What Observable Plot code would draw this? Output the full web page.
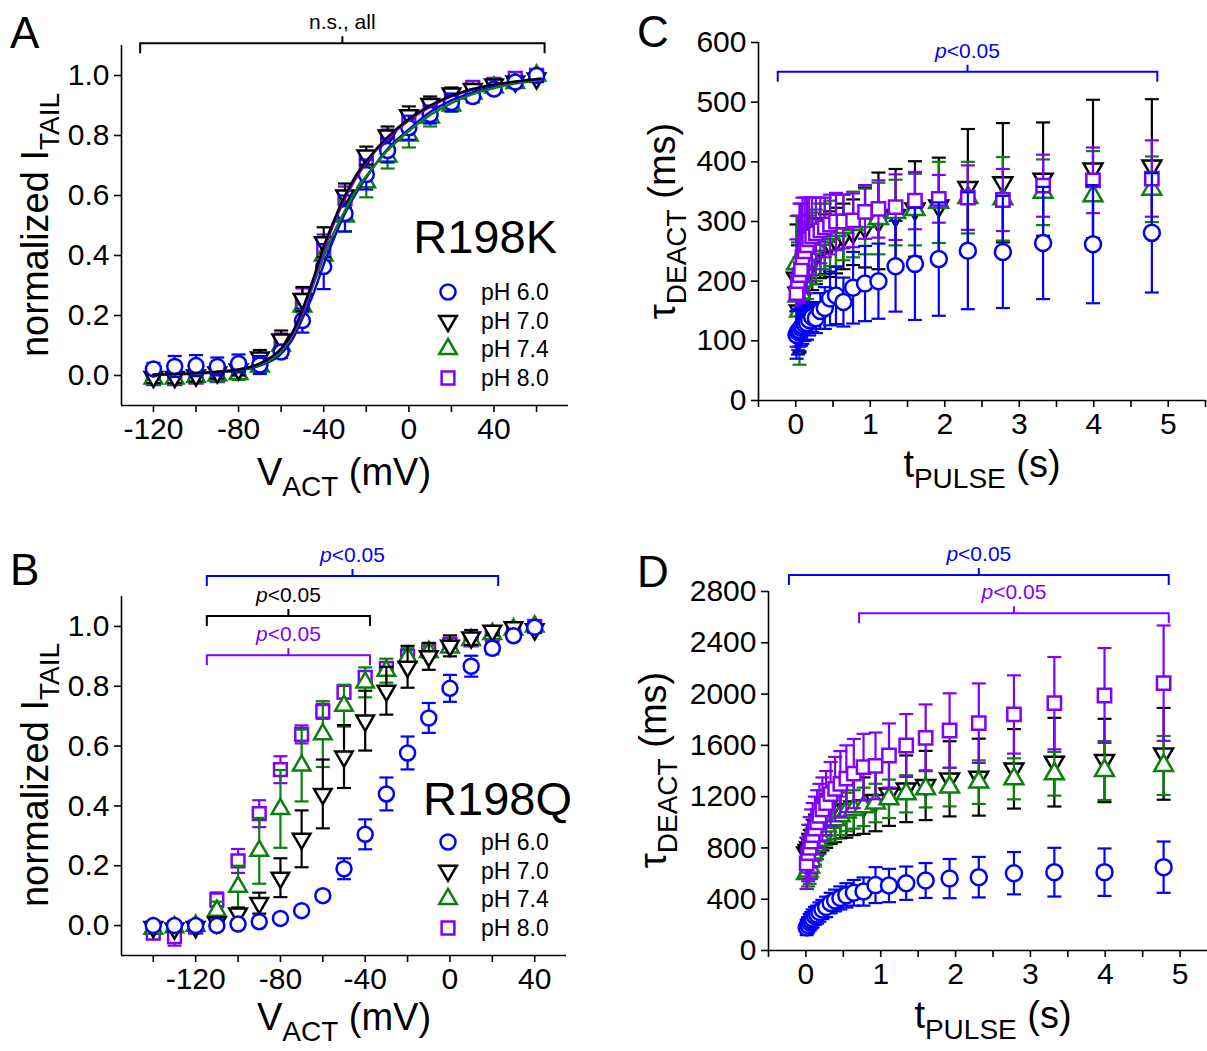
<!DOCTYPE html>
<html><head><meta charset="utf-8">
<script src="https://cdn.jsdelivr.net/npm/d3@7"></script>
<script src="https://cdn.jsdelivr.net/npm/@observablehq/plot@0.6"></script>
<style>
html,body{margin:0;padding:0;background:#fff;}
#fig{position:relative;width:1207px;height:1051px;overflow:hidden;background:#fff;}
#fig svg{position:absolute;overflow:visible;}
</style></head><body><div id="fig"></div>
<script>
// ---------------- DATA ----------------
const phLabels = ["pH 6.0", "pH 7.0", "pH 7.4", "pH 8.0"];

// Panel A (R198K): normalized I_TAIL vs V_ACT
const vA = [-120,-110,-100,-90,-80,-70,-60,-50,-40,-30,-20,-10,0,10,20,30,40,50,60];
const a60 = [0.022,0.03,0.033,0.03,0.04,0.035,0.078,0.183,0.363,0.54,0.67,0.75,0.826,0.87,0.91,0.93,0.955,0.978,1.0];
const a60err = [0.02,0.035,0.035,0.03,0.03,0.03,0.02,0.04,0.075,0.06,0.05,0.04,0.04,0.03,0.03,0.02,0.015,0.015,0.01];
const a70 = [-0.005,-0.005,0,0.01,0.02,0.06,0.12,0.255,0.444,0.6,0.733,0.8,0.867,0.905,0.94,0.955,0.97,0.98,0.99];
const a70err = [0.02,0.02,0.02,0.02,0.02,0.025,0.03,0.04,0.05,0.04,0.03,0.03,0.03,0.025,0.02,0.015,0.01,0.01,0.01];
const a74 = [-0.01,-0.01,-0.005,0,0.005,0.03,0.1,0.23,0.4,0.53,0.644,0.73,0.8,0.86,0.9,0.94,0.96,0.975,1.0];
const a74err = [0.015,0.015,0.015,0.02,0.02,0.02,0.03,0.04,0.04,0.05,0.05,0.04,0.04,0.03,0.02,0.02,0.015,0.01,0.01];
const a80 = [-0.01,-0.01,-0.005,0,0.01,0.04,0.11,0.25,0.42,0.59,0.71,0.79,0.86,0.9,0.93,0.96,0.97,0.99,1.0];
const a80err = [0.015,0.015,0.02,0.02,0.02,0.025,0.03,0.04,0.05,0.04,0.03,0.03,0.02,0.02,0.02,0.015,0.01,0.01,0.01];
// fitted curves
const vFitA = [-120,-100,-80,-70,-60,-55,-50,-45,-40,-35,-30,-25,-20,-10,0,10,20,30,40,50,62];
const fitA60 = [0.003,0.006,0.017,0.033,0.072,0.117,0.19,0.27,0.37,0.46,0.54,0.605,0.66,0.755,0.82,0.878,0.917,0.944,0.964,0.976,0.983];
const fitA70 = [0.003,0.008,0.02,0.04,0.09,0.14,0.22,0.32,0.43,0.52,0.6,0.665,0.715,0.795,0.855,0.9,0.932,0.955,0.97,0.98,0.99];
const fitA74 = [0.003,0.007,0.018,0.036,0.08,0.13,0.205,0.3,0.395,0.48,0.55,0.615,0.665,0.75,0.815,0.868,0.908,0.938,0.958,0.973,0.985];
const fitA80 = [0.003,0.008,0.02,0.04,0.088,0.135,0.21,0.31,0.415,0.51,0.59,0.655,0.71,0.79,0.85,0.895,0.93,0.953,0.968,0.978,0.988];

// Panel B (R198Q)
const vB = [-140,-130,-120,-110,-100,-90,-80,-70,-60,-50,-40,-30,-20,-10,0,10,20,30,40];
const b60 = [0,0,0,0,0.005,0.013,0.024,0.05,0.1,0.19,0.305,0.44,0.577,0.694,0.793,0.867,0.927,0.969,0.997];
const b60err = [0.015,0.015,0.015,0.015,0.015,0.012,0.012,0.01,0.015,0.035,0.05,0.055,0.055,0.05,0.045,0.035,0.02,0.01,0.01];
const b70 = [-0.005,-0.01,-0.005,0.01,0.04,0.075,0.16,0.29,0.44,0.565,0.685,0.785,0.865,0.9,0.935,0.963,0.985,0.997,0.99];
const b70err = [0.01,0.01,0.01,0.01,0.02,0.035,0.065,0.095,0.115,0.105,0.1,0.08,0.07,0.045,0.035,0.025,0.015,0.01,0.01];
const b74 = [-0.01,-0.005,0,0.05,0.13,0.25,0.39,0.535,0.64,0.735,0.813,0.852,0.897,0.915,0.93,0.955,0.975,0.99,1.0];
const b74err = [0.01,0.01,0.015,0.03,0.07,0.11,0.13,0.12,0.11,0.07,0.05,0.04,0.03,0.02,0.015,0.015,0.01,0.01,0.01];
const b80 = [-0.025,-0.037,-0.005,0.086,0.216,0.374,0.521,0.639,0.716,0.78,0.83,0.86,0.9,0.92,0.94,0.955,0.975,0.99,1.0];
const b80err = [0.01,0.03,0.01,0.025,0.04,0.045,0.045,0.03,0.025,0.02,0.02,0.02,0.015,0.015,0.015,0.01,0.01,0.01,0.01];

// Panels C & D: tau_DEACT vs t_PULSE
const tPulse = [0.01,0.03,0.05,0.07,0.09,0.12,0.15,0.18,0.22,0.27,0.33,0.39,0.46,0.54,0.64,0.77,0.93,1.11,1.34,1.6,1.92,2.31,2.78,3.32,3.99,4.78];
const c60 = [110,115,118,122,125,128,130,135,140,138,150,155,171,176,165,189,196,200,225,229,237,251,249,264,262,281];
const c60err = [40,38,35,30,30,28,28,26,25,25,30,35,45,48,41,60,63,63,76,94,95,98,94,94,99,100];
const c70 = [205,180,150,170,200,210,215,225,240,250,255,262,262,268,275,282,290,301,310,321,326,357,365,371,388,393];
const c70err = [90,80,70,70,70,65,60,60,55,55,50,50,55,55,55,55,67,81,78,80,81,98,100,95,116,112];
const c74 = [229,175,150,180,200,220,235,245,255,260,270,275,280,285,290,295,300,305,315,320,332,340,338,349,343,354];
const c74err = [80,90,90,80,75,70,65,65,60,60,60,55,55,60,55,55,55,60,55,60,68,60,70,55,75,55];
const c80 = [180,200,210,220,240,250,260,270,275,280,285,290,295,300,300,302,316,321,324,335,338,340,336,360,369,372];
const c80err = [90,110,120,110,100,90,80,70,65,60,55,50,50,48,45,45,45,48,55,48,40,54,52,52,55,64];

const d60 = [180,200,220,235,250,270,280,300,320,340,370,390,410,430,450,460,510,507,525,546,561,572,603,611,611,650];
const d60err = [60,60,65,65,70,70,70,75,75,80,80,85,90,95,100,110,140,130,130,136,153,158,165,190,185,200];
const d70 = [760,780,800,830,860,890,920,950,980,1010,1040,1060,1090,1100,1120,1130,1170,1222,1261,1287,1339,1352,1417,1469,1482,1534];
const d70err = [120,130,140,150,160,170,180,190,200,210,210,215,215,220,220,220,240,250,260,270,293,300,310,346,325,358];
const d74 = [600,620,650,700,760,820,860,900,940,970,1000,1020,1050,1080,1100,1120,1150,1183,1222,1261,1274,1313,1339,1378,1404,1443];
const d74err = [120,120,130,140,150,150,150,150,150,150,150,150,150,150,150,150,150,150,145,145,150,170,160,170,230,230];
const d80 = [680,760,800,850,900,950,1000,1050,1100,1150,1220,1260,1300,1340,1380,1430,1440,1521,1599,1659,1716,1773,1841,1929,1989,2085];
const d80err = [200,220,240,250,250,250,250,250,250,250,250,250,255,260,270,260,260,250,245,260,290,310,305,360,370,450];

// Ticks
const xMajorAB = [-120,-80,-40,0,40];
const xMinorA = [-100,-60,-20,20,60];
const xMinorB = [-140,-100,-60,-20,20];
const yTicksAB = [0,0.2,0.4,0.6,0.8,1.0];
const xMajorCD = [0,1,2,3,4,5];
const xMinorCD = [-0.5,0.5,1.5,2.5,3.5,4.5,5.5];
const yTicksC = [0,100,200,300,400,500,600];
const yTicksD = [0,400,800,1200,1600,2000,2400,2800];

// Significance brackets (x range, y level, label)
const bracketsA = [{x1:-126, x2:64, y:1.106, label:"n.s., all", k:1, italicP:false}];
const bracketsB = [
  {x1:-114.5, x2:23, y:1.167, label:"p<0.05", k:0, italicP:true},
  {x1:-114.5, x2:-37.5, y:1.033, label:"p<0.05", k:1, italicP:true},
  {x1:-114.5, x2:-37.5, y:0.902, label:"p<0.05", k:3, italicP:true}
];
const bracketsC = [{x1:-0.235, x2:4.86, y:550, label:"p<0.05", k:0, italicP:true}];
const bracketsD = [
  {x1:-0.22, x2:4.855, y:2925, label:"p<0.05", k:0, italicP:true},
  {x1:0.717, x2:4.855, y:2626, label:"p<0.05", k:3, italicP:true}
];

// ---------------- STYLE ----------------
const fam = '"Liberation Sans", Arial, Helvetica, sans-serif';
const phColors = ["#0000ff", "#000000", "#0b800b", "#8000ff"];
const sqrt3 = Math.sqrt(3);
const triDown = {draw(ctx, size) {
  const y = Math.sqrt(size / (sqrt3 * 3));
  ctx.moveTo(0, 2 * y); ctx.lineTo(sqrt3 * y, -y); ctx.lineTo(-sqrt3 * y, -y); ctx.closePath();
}};
const capSym = {draw(ctx) { ctx.moveTo(-7, 0); ctx.lineTo(7, 0); }};
const phSymbols = [d3.symbolCircle, triDown, d3.symbolTriangle, d3.symbolSquare];
const rAB = [7.5, 6.5, 6.5, 7.2];
const rCD = [8, 7, 7, 7.5];

function seriesMarks(xs, vals, errs, k, rr) {
  const idx = d3.range(xs.length);
  const c = phColors[k];
  return [
    Plot.ruleX(idx, {x: i => xs[i], y1: i => vals[i] - errs[i], y2: i => vals[i] + errs[i], stroke: c, strokeWidth: 2.2}),
    Plot.dot(idx, {x: i => xs[i], y: i => vals[i] - errs[i], symbol: capSym, r: 3, stroke: c, fill: "none", strokeWidth: 2.2}),
    Plot.dot(idx, {x: i => xs[i], y: i => vals[i] + errs[i], symbol: capSym, r: 3, stroke: c, fill: "none", strokeWidth: 2.2}),
    Plot.dot(idx, {x: i => xs[i], y: i => vals[i], symbol: phSymbols[k], r: rr[k], stroke: c, fill: "white", strokeWidth: 2.5})
  ];
}
function fitLine(xs, ys, k) {
  const idx = d3.range(xs.length);
  return Plot.line(idx, {x: i => xs[i], y: i => ys[i], stroke: phColors[k], strokeWidth: 2.4, curve: "monotone-x"});
}

function panel(o) {
  const svg = Plot.plot({
    width: o.w, height: o.h,
    marginLeft: o.ml, marginRight: o.mr, marginTop: o.mt, marginBottom: o.mb,
    x: {domain: o.xd}, y: {domain: o.yd},
    style: {fontFamily: fam, fontSize: "30px", color: "#000", background: "transparent", overflow: "visible"},
    marks: [
      Plot.axisX({ticks: o.xMinor, tickSize: 7, tickFormat: () => "", strokeWidth: 1.6, label: null}),
      Plot.axisX({ticks: o.xMajor, tickSize: 7, tickPadding: 5, tickFormat: d => String(d), strokeWidth: 1.6, label: null}),
      Plot.axisY({ticks: o.yTicks, tickSize: 7, tickPadding: 5, tickFormat: o.yFmt, strokeWidth: 1.6, label: null}),
      Plot.ruleY([o.yd[0]], {strokeWidth: 1.6}),
      Plot.ruleX([o.xd[0]], {strokeWidth: 1.6}),
      ...o.marks
    ]
  });
  svg.style.left = o.left + "px";
  svg.style.top = o.top + "px";
  document.getElementById("fig").appendChild(svg);
  return svg;
}

const f1 = d3.format(".1f");
const plotA = panel({
  left: 0, top: 0, w: 603, h: 525, ml: 121, mr: 35, mt: 45, mb: 120,
  xd: [-135, 75], yd: [-0.1, 1.1], xMajor: xMajorAB, xMinor: xMinorA, yTicks: yTicksAB, yFmt: f1,
  marks: [
    ...seriesMarks(vA, a80, a80err, 3, rAB),
    ...seriesMarks(vA, a74, a74err, 2, rAB),
    ...seriesMarks(vA, a70, a70err, 1, rAB),
    ...seriesMarks(vA, a60, a60err, 0, rAB),
    fitLine(vFitA, fitA60, 0), fitLine(vFitA, fitA74, 2), fitLine(vFitA, fitA80, 3), fitLine(vFitA, fitA70, 1)
  ]
});
const plotB = panel({
  left: 0, top: 525, w: 603, h: 526, ml: 121, mr: 37, mt: 71, mb: 96,
  xd: [-155, 55], yd: [-0.1, 1.1], xMajor: xMajorAB, xMinor: xMinorB, yTicks: yTicksAB, yFmt: f1,
  marks: [
    ...seriesMarks(vB, b80, b80err, 3, rAB),
    ...seriesMarks(vB, b74, b74err, 2, rAB),
    ...seriesMarks(vB, b70, b70err, 1, rAB),
    ...seriesMarks(vB, b60, b60err, 0, rAB)
  ]
});
const plotC = panel({
  left: 603, top: 0, w: 604, h: 525, ml: 155, mr: 2, mt: 42, mb: 125,
  xd: [-0.5, 5.5], yd: [0, 600], xMajor: xMajorCD, xMinor: xMinorCD, yTicks: yTicksC, yFmt: d => String(d),
  marks: [
    ...seriesMarks(tPulse, c70, c70err, 1, rCD),
    ...seriesMarks(tPulse, c74, c74err, 2, rCD),
    ...seriesMarks(tPulse, c80, c80err, 3, rCD),
    ...seriesMarks(tPulse, c60, c60err, 0, rCD)
  ]
});
const plotD = panel({
  left: 603, top: 525, w: 614, h: 526, ml: 165, mr: 0, mt: 66, mb: 101,
  xd: [-0.5, 5.5], yd: [0, 2800], xMajor: xMajorCD, xMinor: xMinorCD, yTicks: yTicksD, yFmt: d => String(d),
  marks: [
    ...seriesMarks(tPulse, d70, d70err, 1, rCD),
    ...seriesMarks(tPulse, d74, d74err, 2, rCD),
    ...seriesMarks(tPulse, d80, d80err, 3, rCD),
    ...seriesMarks(tPulse, d60, d60err, 0, rCD)
  ]
});

// ---------------- OVERLAY TEXT ----------------
const ov = d3.select("#fig").append("svg")
  .attr("width", 1207).attr("height", 1051)
  .style("left", "0px").style("top", "0px")
  .attr("font-family", fam);

function label(x, y, s, size, anchor = "start", color = "#000") {
  return ov.append("text").attr("x", x).attr("y", y).attr("font-size", size)
    .attr("text-anchor", anchor).attr("fill", color).text(s);
}
function subTitle(x, y, main, sub, tail, rotate) {
  const t = ov.append("text").attr("font-size", 38).attr("text-anchor", "middle").attr("fill", "#000")
    .attr("transform", rotate ? `translate(${x},${y}) rotate(-90)` : `translate(${x},${y})`);
  t.append("tspan").text(main);
  t.append("tspan").attr("font-size", 28).attr("dy", 11).text(sub);
  if (tail) t.append("tspan").attr("dy", -11).text(tail);
}
// panel letters
label(10, 48, "A", 44); label(10, 585, "B", 44); label(637, 47, "C", 44); label(637, 587, "D", 44);
// mutant names
label(557, 253, "R198K", 47, "end"); label(572, 815, "R198Q", 47, "end");
// axis titles
subTitle(48, 225, "normalized I", "TAIL", "", true);
subTitle(48, 775, "normalized I", "TAIL", "", true);
subTitle(675, 221, "\u03C4", "DEACT", " (ms)", true);
subTitle(666, 770, "\u03C4", "DEACT", " (ms)", true);
subTitle(344, 485, "V", "ACT", " (mV)", false);
subTitle(344, 1030, "V", "ACT", " (mV)", false);
subTitle(982, 477, "t", "PULSE", " (s)", false);
subTitle(993, 1028, "t", "PULSE", " (s)", false);

// legends
function legend(x, ys, r) {
  ys.forEach((y, k) => {
    ov.append("path").attr("d", d3.symbol(phSymbols[k], r[k] * r[k] * Math.PI)())
      .attr("transform", `translate(${x},${y})`).attr("fill", "white")
      .attr("stroke", phColors[k]).attr("stroke-width", 2.5);
    ov.append("text").attr("x", x + 33).attr("y", y).attr("dy", "0.36em").attr("font-size", 23)
      .attr("fill", "#000").text(phLabels[k]);
  });
}
legend(448, [292, 321, 349, 378], rAB);
legend(448, [842, 870.7, 899, 928], rAB);

// brackets
function brackets(plot, ox, oy, list) {
  const sx = plot.scale("x"), sy = plot.scale("y");
  list.forEach(b => {
    const x1 = ox + sx.apply(b.x1), x2 = ox + sx.apply(b.x2), xm = (x1 + x2) / 2, y = oy + sy.apply(b.y);
    const c = phColors[b.k];
    ov.append("path").attr("d", `M${x1},${y + 10}V${y}H${x2}V${y + 10}M${xm},${y}V${y - 7}`)
      .attr("fill", "none").attr("stroke", c).attr("stroke-width", 2);
    const t = ov.append("text").attr("x", xm).attr("y", y - 14).attr("text-anchor", "middle")
      .attr("font-size", 21).attr("fill", c);
    if (b.italicP) {
      t.append("tspan").attr("font-style", "italic").text(b.label.slice(0, 1));
      t.append("tspan").text(b.label.slice(1));
    } else t.text(b.label);
  });
}
brackets(plotA, 0, 0, bracketsA);
brackets(plotB, 0, 525, bracketsB);
brackets(plotC, 603, 0, bracketsC);
brackets(plotD, 603, 525, bracketsD);
</script></body></html>
